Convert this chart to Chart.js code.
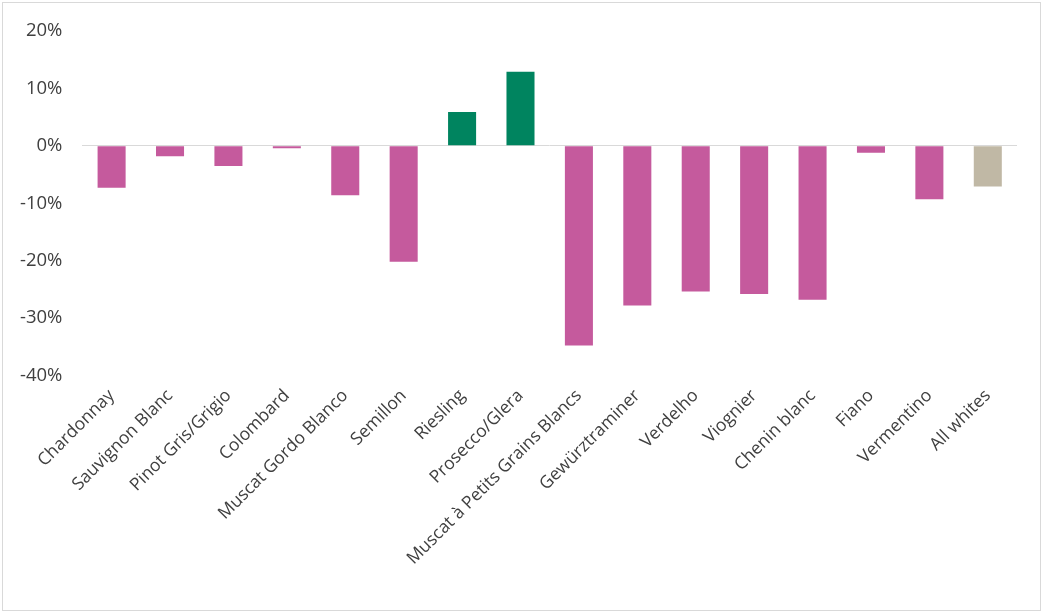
<!DOCTYPE html>
<html>
<head>
<meta charset="utf-8">
<script src="https://cdn.jsdelivr.net/npm/chart.js@4/dist/chart.umd.min.js"></script>
<style>
    html, body { margin: 0; padding: 0; background: #fff; }
    #frame {
        position: absolute; left: 2px; top: 2px;
        width: 1037px; height: 607px;
        border: 1px solid #d9d9d9;
    }
    #wrap { position: absolute; left: 0; top: 0; width: 1045px; height: 615px; }
</style>
</head>
<body>
<div id="frame"></div>
<div id="wrap"><canvas id="chart"></canvas></div>
<script>
// Change in white varieties (%)
const varieties = [
    'Chardonnay', 'Sauvignon Blanc', 'Pinot Gris/Grigio', 'Colombard', 'Muscat Gordo Blanco',
    'Semillon', 'Riesling', 'Prosecco/Glera', 'Muscat à Petits Grains Blancs', 'Gewürztraminer',
    'Verdelho', 'Viognier', 'Chenin blanc', 'Fiano', 'Vermentino', 'All whites'
];
const changePct = [-7.3, -1.8, -3.5, -0.4, -8.6, -20.2, 5.9, 12.9, -34.8, -27.8, -25.4, -25.8, -26.8, -1.2, -9.3, -7.1];
const yTicks = [-40, -30, -20, -10, 0, 10, 20];

const PINK = '#c55a9d';
const GREEN = '#00845f';
const TAN = '#c0b8a5';
const barColors = changePct.map((v, i) => {
    if (i === varieties.length - 1) return TAN;
    return v > 0 ? GREEN : PINK;
});

const textColor = '#404040';
const font = 'Open Sans';

const ctx = document.getElementById('chart').getContext('2d');
new Chart(ctx, {
    type: 'bar',
    data: {
        labels: varieties,
        datasets: [{
            data: changePct,
            backgroundColor: barColors,
            borderWidth: 0,
            barPercentage: 0.48,
            categoryPercentage: 1.0
        }]
    },
    options: {
        responsive: true,
        maintainAspectRatio: false,
        animation: false,
        layout: { padding: { left: 0, right: 28, top: 13, bottom: 44 } },
        plugins: {
            legend: { display: false },
            tooltip: { enabled: false }
        },
        scales: {
            x: {
                grid: { display: false },
                border: { display: false },
                ticks: {
                    color: textColor,
                    font: { family: font, size: 17.5 },
                    minRotation: 45,
                    maxRotation: 45,
                    autoSkip: false,
                    padding: 2
                }
            },
            y: {
                min: -40,
                max: 20,
                afterBuildTicks: axis => { axis.ticks = yTicks.map(v => ({ value: v })); },
                grid: {
                    drawTicks: false,
                    color: c => c.tick && c.tick.value === 0 ? '#d9d9d9' : 'transparent',
                    lineWidth: 1
                },
                border: { display: false },
                ticks: {
                    color: textColor,
                    font: { family: font, size: 18.5 },
                    padding: 20,
                    callback: v => v + '%'
                }
            }
        }
    }
});
</script>
</body>
</html>
